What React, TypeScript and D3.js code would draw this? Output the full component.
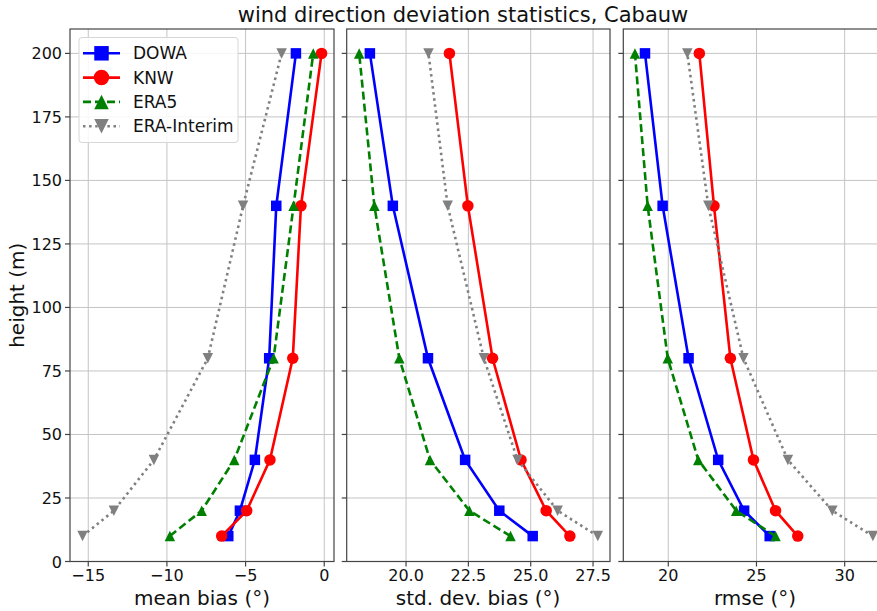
import { useEffect, useRef } from "react";
import * as d3 from "d3";

// heights of the measurement levels (m)
const heights = [10, 20, 40, 80, 140, 200];

const models = ["DOWA", "KNW", "ERA5", "ERA-Interim"];
const colors = ["#0000ff", "#ff0000", "#008000", "#808080"];
const dashes = [null, null, "8,4", "2.5,3.6"];
const shapes = ["square", "circle", "up", "down"];

// values per model, ordered as `models`, one value per height
const meanBias = [
  [-6.1, -5.36, -4.41, -3.5, -3.05, -1.8],
  [-6.52, -4.93, -3.45, -2.0, -1.48, -0.17],
  [-9.81, -7.79, -5.72, -3.22, -1.95, -0.7],
  [-15.36, -13.37, -10.83, -7.4, -5.16, -2.71],
];
const stdDevBias = [
  [25.08, 23.74, 22.37, 20.88, 19.47, 18.55],
  [26.57, 25.62, 24.61, 23.47, 22.48, 21.74],
  [24.19, 22.54, 20.96, 19.73, 18.73, 18.12],
  [27.69, 26.08, 24.47, 23.12, 21.67, 20.9],
];
const rmse = [
  [25.75, 24.3, 22.83, 21.15, 19.68, 18.68],
  [27.34, 26.08, 24.83, 23.52, 22.59, 21.76],
  [26.08, 23.85, 21.7, 19.97, 18.83, 18.11],
  [31.6, 29.3, 26.78, 24.26, 22.27, 21.08],
];

const yTicks = [0, 25, 50, 75, 100, 125, 150, 175, 200];
const meanTicks = [-15, -10, -5, 0];
const stdTicks = [20, 22.5, 25, 27.5];
const rmseTicks = [20, 25, 30];

const panels = [
  { values: meanBias, domain: [-16.16, 0.62], range: [70, 334], ticks: meanTicks, fmt: d3.format(""), label: "mean bias (°)", labelX: 202 },
  { values: stdDevBias, domain: [17.62, 28.18], range: [346.7, 610], ticks: stdTicks, fmt: d3.format(".1f"), label: "std. dev. bias (°)", labelX: 478 },
  // right part of the last panel is cut off by the figure edge
  { values: rmse, domain: [17.45, 32.4], range: [623.3, 887], ticks: rmseTicks, fmt: d3.format(""), label: "rmse (°)", labelX: 755 },
];

const FONT = "DejaVu Sans, sans-serif";

function markerPath(shape: string, s: number): string {
  const h = s / 2;
  if (shape === "square") return `M${-h},${-h}H${h}V${h}H${-h}Z`;
  if (shape === "up") return `M0,${-h}L${h},${h}L${-h},${h}Z`;
  if (shape === "down") return `M0,${h}L${h},${-h}L${-h},${-h}Z`;
  return d3.symbol(d3.symbolCircle, Math.PI * h * h)() as string;
}

export default function App() {
  const svgRef = useRef<SVGSVGElement>(null);

  useEffect(() => {
    if (!svgRef.current) return;
    const svg = d3.select(svgRef.current);
    svg.selectAll("*").remove();

    const top = 29, bottom = 561.5;
    const y = d3.scaleLinear().domain([0, 209.6]).range([bottom, top]);

    svg.append("rect").attr("width", 877).attr("height", 611).attr("fill", "#fff");

    panels.forEach((p, pi) => {
      const x = d3.scaleLinear().domain(p.domain).range(p.range);
      const [x0, x1] = p.range;
      const g = svg.append("g");

      // grid
      g.selectAll(".vg").data(p.ticks).enter().append("line")
        .attr("x1", d => x(d)).attr("x2", d => x(d))
        .attr("y1", top).attr("y2", bottom)
        .attr("stroke", "#c4c4c4").attr("stroke-width", 1);
      g.selectAll(".hg").data(yTicks).enter().append("line")
        .attr("x1", x0).attr("x2", x1)
        .attr("y1", d => y(d)).attr("y2", d => y(d))
        .attr("stroke", "#c4c4c4").attr("stroke-width", 1);

      // series
      const lineGen = d3.line<number>()
        .x(d => x(d))
        .y((_, i) => y(heights[i]));
      p.values.forEach((vals, mi) => {
        g.append("path").datum(vals).attr("d", lineGen)
          .attr("fill", "none").attr("stroke", colors[mi]).attr("stroke-width", 2.6)
          .attr("stroke-dasharray", dashes[mi]);
        g.selectAll(`.m${mi}`).data(vals).enter().append("path")
          .attr("transform", (d, i) => `translate(${x(d)},${y(heights[i])})`)
          .attr("d", markerPath(shapes[mi], shapes[mi] === "circle" ? 11.5 : 10.5))
          .attr("fill", colors[mi]);
      });

      // frame
      g.append("rect").attr("x", x0).attr("y", top)
        .attr("width", x1 - x0).attr("height", bottom - top)
        .attr("fill", "none").attr("stroke", "#444").attr("stroke-width", 1.2);

      // x ticks
      g.selectAll(".xt").data(p.ticks).enter().append("line")
        .attr("x1", d => x(d)).attr("x2", d => x(d))
        .attr("y1", bottom).attr("y2", bottom + 5)
        .attr("stroke", "#444").attr("stroke-width", 1.2);
      g.selectAll(".xl").data(p.ticks).enter().append("text")
        .attr("x", d => x(d)).attr("y", bottom + 19)
        .attr("text-anchor", "middle").attr("font-size", 16).attr("font-family", FONT)
        .attr("fill", "#111")
        .text(d => p.fmt(d).replace("-", "\u2212"));
      g.append("text").attr("x", p.labelX).attr("y", bottom + 43)
        .attr("text-anchor", "middle").attr("font-size", 20).attr("font-family", FONT)
        .attr("fill", "#111").text(p.label);

      // y ticks
      g.selectAll(".yt").data(yTicks).enter().append("line")
        .attr("x1", x0 - 5).attr("x2", x0)
        .attr("y1", d => y(d)).attr("y2", d => y(d))
        .attr("stroke", "#444").attr("stroke-width", 1.2);
      if (pi === 0) {
        g.selectAll(".yl").data(yTicks).enter().append("text")
          .attr("x", x0 - 8).attr("y", d => y(d) + 6)
          .attr("text-anchor", "end").attr("font-size", 16).attr("font-family", FONT)
          .attr("fill", "#111").text(d => d);
      }
    });

    // y label
    svg.append("text").attr("transform", `translate(24,${(top + bottom) / 2}) rotate(-90)`)
      .attr("text-anchor", "middle").attr("font-size", 20).attr("font-family", FONT)
      .attr("fill", "#111").text("height (m)");

    // title
    svg.append("text").attr("x", 463).attr("y", 22)
      .attr("text-anchor", "middle").attr("font-size", 21).attr("font-family", FONT)
      .attr("fill", "#111").text("wind direction deviation statistics, Cabauw");

    // legend
    const lg = svg.append("g");
    lg.append("rect").attr("x", 79).attr("y", 37.5).attr("width", 159).attr("height", 105)
      .attr("rx", 3).attr("fill", "#fff").attr("fill-opacity", 0.85)
      .attr("stroke", "#d6d6d6").attr("stroke-width", 1);
    models.forEach((m, mi) => {
      const cy = 53.3 + mi * 24.3;
      lg.append("line").attr("x1", 83).attr("x2", 120).attr("y1", cy).attr("y2", cy)
        .attr("stroke", colors[mi]).attr("stroke-width", 2.6)
        .attr("stroke-dasharray", dashes[mi]);
      lg.append("path").attr("transform", `translate(101.5,${cy})`)
        .attr("d", markerPath(shapes[mi], shapes[mi] === "circle" ? 15.5 : 14.5))
        .attr("fill", colors[mi]);
      lg.append("text").attr("x", 133).attr("y", cy + 6)
        .attr("font-size", 17).attr("font-family", FONT).attr("fill", "#111").text(m);
    });
  }, []);

  return (
    <svg ref={svgRef} width={877} height={611}
      style={{ position: "absolute", left: 0, top: 0, display: "block" }} />
  );
}
